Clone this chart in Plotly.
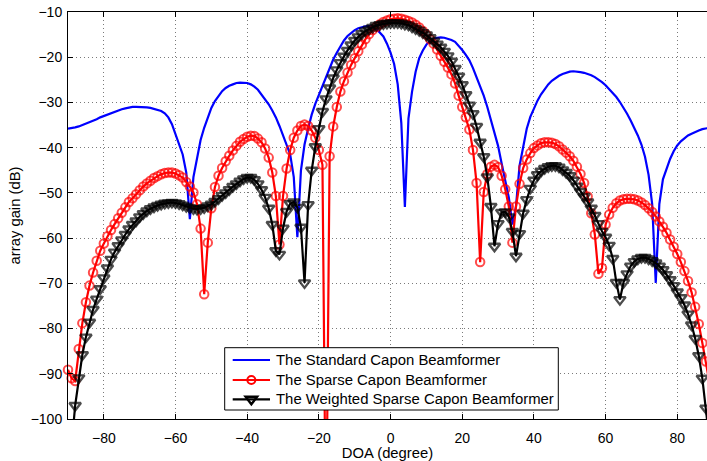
import plotly.graph_objects as go

# DOA grid (degrees)
doa = list(range(-90, 91))

standard_capon = [
    -35.8, -35.7, -35.5, -35.3, -35.0, -34.7, -34.4, -34.0, -33.7, -33.3,   # -90..-81
    -33.0, -32.6, -32.3, -32.0, -31.7, -31.5, -31.3, -31.1, -31.0, -31.0,   # -80..-71
    -31.0, -31.0, -31.1, -31.2, -31.4, -31.6, -31.9, -32.4, -33.3, -34.8,   # -70..-61
    -36.9, -39.0, -41.5, -45.5, -55.8, -46.5, -42.0, -38.3, -35.6, -33.3,   # -60..-51
    -31.2, -29.7, -28.5, -27.5, -26.8, -26.3, -26.0, -25.7, -25.6, -25.6,   # -50..-41
    -25.7, -26.0, -26.5, -27.2, -28.3, -29.2, -30.4, -31.8, -33.3, -35.2,   # -40..-31
    -37.2, -39.6, -41.5, -46.5, -59.8, -45.0, -39.3, -35.8, -32.7, -30.3,   # -30..-21
    -28.3, -26.2, -24.3, -22.4, -20.5, -19.0, -17.6, -16.3, -15.3, -14.6,   # -20..-11
    -14.0, -13.6, -13.3, -13.15, -13.1, -13.3, -13.7, -14.5, -15.4, -17.0,  # -10..-1
    -19.0, -21.5, -26.0, -34.5, -53.1, -33.5, -27.6, -23.2, -20.2, -18.5,   # 0..9
    -17.2, -16.4, -15.9, -15.7, -15.6, -15.7, -15.9, -16.2, -16.6, -17.4,   # 10..19
    -18.4, -19.5, -20.7, -22.4, -24.3, -26.2, -28.5, -31.0, -33.7, -36.5,   # 20..29
    -39.6, -43.5, -47.5, -51.0, -57.0, -53.0, -44.0, -39.5, -35.8, -33.2,   # 30..39
    -31.2, -29.6, -28.2, -27.0, -26.0, -25.2, -24.6, -24.1, -23.7, -23.4,   # 40..49
    -23.2, -23.1, -23.15, -23.3, -23.45, -23.7, -24.0, -24.4, -24.9, -25.5, # 50..59
    -26.2, -27.0, -27.9, -28.8, -29.9, -31.1, -32.5, -34.0, -35.6, -37.3,   # 60..69
    -39.3, -42.0, -46.0, -52.5, -69.9, -52.5, -47.0, -44.5, -42.5, -40.8,   # 70..79
    -39.5, -38.6, -37.9, -37.3, -36.9, -36.5, -36.2, -35.9, -35.7, -35.6,   # 80..89
    -35.5,                                                                  # 90
]

sparse_capon = [
    -89.1, -91.0, -91.6, -84.5, -78.8, -74.2, -70.5, -67.6, -65.0, -62.8,   # -90..-81
    -61.2, -59.6, -58.2, -56.9, -55.6, -54.4, -53.2, -52.0, -51.2, -50.3,   # -80..-71
    -49.4, -48.6, -47.9, -47.3, -46.7, -46.3, -45.9, -45.6, -45.5, -45.5,   # -70..-61
    -45.7, -46.1, -46.6, -47.6, -48.6, -49.9, -52.5, -57.9, -72.4, -61.0,   # -60..-51
    -53.4, -48.7, -46.2, -44.5, -43.0, -41.8, -40.6, -39.6, -38.7, -38.1,   # -50..-41
    -37.6, -37.35, -37.4, -38.0, -38.8, -40.2, -42.2, -45.5, -50.7, -61.4,  # -40..-31
    -50.7, -44.6, -40.5, -37.8, -36.2, -35.2, -34.9, -35.2, -36.2, -37.8,   # -30..-21
    -40.5, -43.8, -130.0, -41.9, -35.3, -31.0, -27.6, -25.3, -23.4, -21.7,  # -20..-11
    -20.2, -18.7, -17.2, -16.0, -14.9, -14.0, -13.3, -12.7, -12.2, -11.9,   # -10..-1
    -11.6, -11.5, -11.4, -11.5, -11.7, -12.0, -12.3, -12.8, -13.4, -14.2,   # 0..9
    -15.0, -16.0, -17.0, -18.3, -19.7, -21.0, -22.3, -23.8, -25.8, -28.5,   # 10..19
    -31.0, -33.3, -36.0, -40.5, -47.8, -65.3, -49.8, -45.8, -44.2, -43.8,   # 20..29
    -44.3, -46.2, -49.2, -53.0, -61.0, -53.0, -48.0, -44.5, -42.6, -41.2,   # 30..39
    -40.1, -39.5, -39.0, -38.8, -38.8, -38.9, -39.2, -39.7, -40.4, -41.1,   # 40..49
    -41.9, -42.9, -44.2, -45.8, -47.8, -50.8, -54.5, -59.2, -67.9, -66.6,   # 50..59
    -57.0, -54.8, -53.3, -52.3, -51.7, -51.4, -51.3, -51.3, -51.4, -51.7,   # 60..69
    -52.1, -52.7, -53.4, -54.2, -55.2, -56.3, -57.5, -58.8, -60.3, -61.9,   # 70..79
    -63.5, -65.3, -67.3, -69.5, -72.0, -75.2, -79.0, -83.2, -87.3, -92.0,   # 80..89
    -97.0,                                                                  # 90
]

weighted_sparse_capon = [
    -112.0, -106.0, -97.0, -90.9, -85.8, -81.9, -78.6, -75.8, -73.5, -71.2, # -90..-81
    -68.8, -66.6, -64.7, -63.1, -61.7, -60.4, -59.2, -58.0, -57.0, -56.2,   # -80..-71
    -55.3, -54.6, -54.0, -53.5, -53.1, -52.8, -52.5, -52.3, -52.2, -52.1,   # -70..-61
    -52.2, -52.4, -52.7, -53.0, -53.3, -53.5, -53.6, -53.5, -53.3, -52.9,   # -60..-51
    -52.5, -51.9, -51.3, -50.6, -50.0, -49.3, -48.6, -48.0, -47.4, -46.9,   # -50..-41
    -46.6, -46.6, -47.1, -48.0, -49.3, -51.0, -53.4, -57.0, -62.8, -63.6,   # -40..-31
    -57.8, -54.1, -52.4, -52.0, -53.2, -57.6, -69.9, -52.6, -45.0, -39.8,   # -30..-21
    -35.8, -32.0, -29.2, -26.8, -24.6, -22.8, -21.2, -19.8, -18.5, -17.3,   # -20..-11
    -16.3, -15.5, -14.8, -14.2, -13.8, -13.4, -13.0, -12.8, -12.6, -12.5,   # -10..-1
    -12.4, -12.4, -12.4, -12.5, -12.7, -12.9, -13.3, -13.7, -14.1, -14.6,   # 0..9
    -15.1, -15.7, -16.4, -17.1, -17.8, -18.7, -19.7, -20.9, -22.5, -24.2,   # 10..19
    -26.1, -28.3, -30.6, -32.5, -35.3, -38.8, -42.0, -46.5, -53.0, -61.8,   # 20..29
    -56.8, -54.3, -54.2, -55.3, -58.5, -64.0, -59.0, -54.5, -51.5, -49.0,   # 30..39
    -47.2, -46.0, -45.2, -44.6, -44.2, -44.0, -44.0, -44.3, -44.9, -45.5,   # 40..49
    -46.2, -47.2, -48.5, -49.7, -50.8, -52.0, -53.4, -55.0, -56.8, -58.5,   # 50..59
    -59.8, -61.6, -64.5, -69.8, -73.6, -69.8, -67.9, -66.2, -65.2, -64.6,   # 60..69
    -64.3, -64.3, -64.6, -65.0, -65.5, -66.2, -67.0, -68.1, -69.2, -70.5,   # 70..79
    -71.9, -73.2, -74.8, -76.8, -79.2, -82.2, -86.0, -91.0, -97.6, -106.0,  # 80..89
    -112.0,                                                                 # 90
]

series_names = [
    "The Standard Capon Beamformer",
    "The Sparse Capon Beamformer",
    "The Weighted Sparse Capon Beamformer",
]

x_ticks = [-80, -60, -40, -20, 0, 20, 40, 60, 80]
y_ticks = [-100, -90, -80, -70, -60, -50, -40, -30, -20, -10]
x_range = [-90, 88.3]
y_range = [-100, -10]

FONT = "Liberation Sans, Arial, Helvetica, sans-serif"
BLUE, RED, BLACK = "#0000ff", "#ff0000", "#000000"

# figure geometry
FIG_W, FIG_H = 707, 461
M_L, M_R, M_T, M_B = 68, 0, 12, 42
PLOT_W = FIG_W - M_L - M_R
PLOT_H = FIG_H - M_T - M_B


def marker_sizes(vals, size):
    # hide markers of points that fall outside the visible y range
    return [size if v >= y_range[0] else 0 for v in vals]


fig = go.Figure()
fig.add_trace(go.Scatter(
    x=doa, y=standard_capon, mode="lines", name=series_names[0],
    line=dict(color=BLUE, width=2.2), showlegend=False,
))
fig.add_trace(go.Scatter(
    x=doa, y=sparse_capon, mode="lines+markers", name=series_names[1],
    line=dict(color=RED, width=2.2),
    marker=dict(symbol="circle-open", size=marker_sizes(sparse_capon, 8.5),
                color=RED, line=dict(width=2, color=RED)),
    cliponaxis=False, showlegend=False,
))
fig.add_trace(go.Scatter(
    x=doa, y=weighted_sparse_capon, mode="lines+markers", name=series_names[2],
    line=dict(color=BLACK, width=2.2),
    marker=dict(symbol="triangle-down-open", size=marker_sizes(weighted_sparse_capon, 10),
                color=BLACK, line=dict(width=2.4, color=BLACK)),
    cliponaxis=False, showlegend=False,
))

# ---- legend box (drawn as layout shapes so it sits above the curves) ----
# positions in pixels relative to the top-left corner of the plot area
box_left, box_right, box_top, box_bottom = 156.7, 490.3, 335.7, 398.0
row_tops = [348.0, 368.0, 387.3]
sample_x0, sample_x1, text_x = 164.7, 202.0, 206.0


def px(dx):
    return dx / PLOT_W


def py(dy):
    return 1 - dy / PLOT_H


shapes = [dict(type="rect", xref="paper", yref="paper", layer="above",
               x0=px(box_left), x1=px(box_right), y0=py(box_bottom), y1=py(box_top),
               fillcolor="#ffffff", line=dict(color="#000000", width=1))]
annotations = []
legend_styles = [(BLUE, None), (RED, "circle"), (BLACK, "triangle")]
for name, (color, sym), ry in zip(series_names, legend_styles, row_tops):
    shapes.append(dict(type="line", xref="paper", yref="paper", layer="above",
                       x0=px(sample_x0), x1=px(sample_x1), y0=py(ry), y1=py(ry),
                       line=dict(color=color, width=2.2)))
    cx = (sample_x0 + sample_x1) / 2
    if sym == "circle":
        r = 4.0
        shapes.append(dict(type="circle", xref="paper", yref="paper", layer="above",
                           x0=px(cx - r), x1=px(cx + r), y0=py(ry + r), y1=py(ry - r),
                           fillcolor="rgba(0,0,0,0)", line=dict(color=color, width=2)))
    elif sym == "triangle":
        r = 5.0
        rt, r2 = r * 2 / 3 ** 0.5, r / 2
        path = "M{:.5f},{:.5f} L{:.5f},{:.5f} L{:.5f},{:.5f} Z".format(
            px(cx - rt), py(ry - r2), px(cx + rt), py(ry - r2), px(cx), py(ry + r))
        shapes.append(dict(type="path", xref="paper", yref="paper", layer="above",
                           path=path, fillcolor="rgba(0,0,0,0)",
                           line=dict(color=color, width=2.4)))
    annotations.append(dict(text=name, xref="paper", yref="paper",
                            x=px(text_x), y=py(ry), xanchor="left", yanchor="middle",
                            showarrow=False, font=dict(family=FONT, size=14.9, color="#000000")))

axis_common = dict(
    showgrid=True, gridcolor="#7a7a7a", gridwidth=1, griddash="1px,3px",
    zeroline=False, showline=True, linecolor="#000000", linewidth=1,
    ticks="inside", ticklen=5, tickcolor="#000000", tickwidth=1,
    tickfont=dict(family=FONT, size=14, color="#000000"),
    automargin=False, ticklabeloverflow="allow",
)

fig.update_layout(
    width=FIG_W, height=FIG_H,
    margin=dict(l=M_L, r=M_R, t=M_T, b=M_B, autoexpand=False),
    paper_bgcolor="#ffffff", plot_bgcolor="#ffffff",
    font=dict(family=FONT, size=14, color="#000000"),
    xaxis=dict(range=x_range, tickvals=x_ticks, mirror="ticks",
               title=dict(text="DOA (degree)", font=dict(family=FONT, size=14.8), standoff=2),
               ticklabelstandoff=6, **axis_common),
    yaxis=dict(range=y_range, tickvals=y_ticks,
               title=dict(text="array gain (dB)", font=dict(family=FONT, size=14.8), standoff=6),
               ticklabelstandoff=2, **axis_common),
    shapes=shapes,
    annotations=annotations,
    showlegend=False,
)

# remove the browser's default 8px page margin so the figure fills the window exactly
fig.write_html("out.html", config={"displayModeBar": False},
               post_script="document.body.style.margin='0px';")
